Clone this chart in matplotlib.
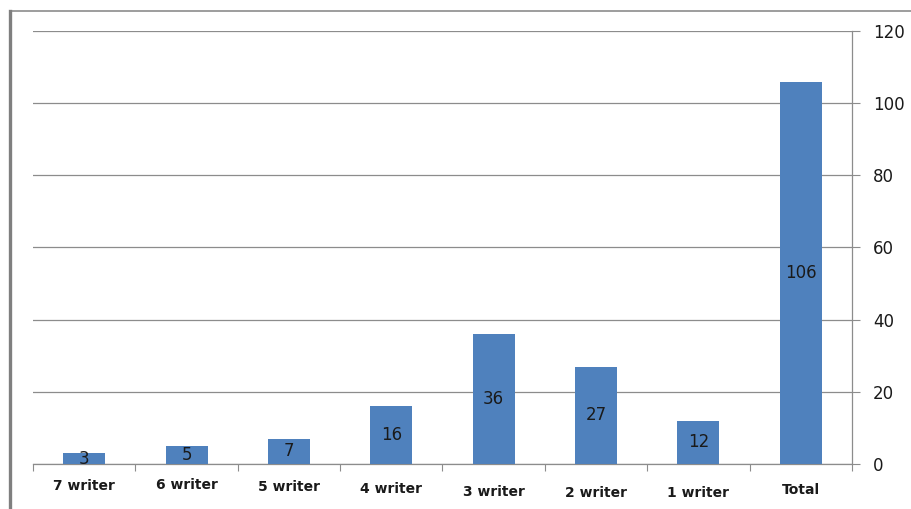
import numpy as np
import matplotlib.pyplot as plt
from matplotlib.lines import Line2D

# Datos
categorias = ['7 writer', '6 writer', '5 writer', '4 writer', '3 writer', '2 writer', '1 writer', 'Total']
valores = [3, 5, 7, 16, 36, 27, 12, 106]
ticks_y = [0, 20, 40, 60, 80, 100, 120]

# desplazamiento vertical de las etiquetas (en puntos bajo el eje)
desplazamiento = [-16, -15, -16.5, -18, -20, -21, -21, -19]

color_barra = '#4F81BD'
color_grid = '#8C8C8C'

fig = plt.figure(figsize=(9.12, 5.09), dpi=100)
ax = fig.add_axes([33/912, 1 - 464/509, (852 - 33)/912, (464 - 31)/509])

x = np.arange(len(categorias))
barras = ax.bar(x, valores, width=0.41, color=color_barra, zorder=3)

for xi, v in zip(x, valores):
    ax.text(xi, v / 2, str(v), ha='center', va='center', fontsize=12, color='#1a1a1a', zorder=4)

ax.set_xlim(-0.5, len(categorias) - 0.5)
ax.set_ylim(0, 120)
ax.set_yticks(ticks_y)
ax.yaxis.tick_right()
ax.tick_params(axis='y', direction='out', length=6, color=color_grid, labelsize=12,
               labelcolor='#1a1a1a', pad=9)
ax.grid(axis='y', color=color_grid, linewidth=0.9, zorder=0)

# ticks del eje x entre categorias
ax.set_xticks(np.arange(-0.5, len(categorias), 1.0))
ax.set_xticklabels([])
ax.tick_params(axis='x', direction='out', length=5, color=color_grid)
for xi, cat, d in zip(x, categorias, desplazamiento):
    ax.annotate(cat, (xi, 0), xytext=(0, d), textcoords='offset points',
                ha='center', va='center', fontsize=10, fontweight='bold', color='#1a1a1a',
                annotation_clip=False)

for lado in ['top', 'left']:
    ax.spines[lado].set_visible(False)
ax.spines['right'].set_color(color_grid)
ax.spines['bottom'].set_color(color_grid)
ax.spines['right'].set_linewidth(0.9)
ax.spines['bottom'].set_linewidth(0.9)

# marco exterior
fig.add_artist(Line2D([10/912, 1], [1 - 11/509, 1 - 11/509], color='#8C8C8C', linewidth=1.2))
fig.add_artist(Line2D([10/912, 10/912], [0, 1 - 11/509], color='#7F7F7F', linewidth=2.4))

fig.savefig('out.png', dpi=100)
